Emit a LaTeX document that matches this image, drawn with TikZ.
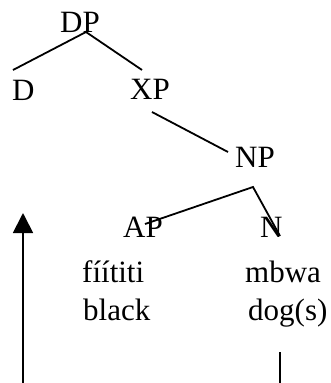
\documentclass[tikz,border=0pt]{standalone}
\usepackage{fontspec}
\setmainfont{Liberation Serif}
\usetikzlibrary{arrows.meta}
\begin{document}
\begin{tikzpicture}[x=1pt,y=-1pt,
  lbl/.style={anchor=base west,inner sep=0pt,font=\fontsize{31}{36}\selectfont},
  edge/.style={line width=1.8pt}]
\useasboundingbox (0,0) rectangle (330,383);
\node[lbl] (dp) at (60,32) {DP};
\node[lbl] (d) at (12,100) {D};
\node[lbl] (xp) at (130,99) {XP};
\node[lbl] (np) at (235,167) {NP};
\node[lbl] (ap) at (123,237) {AP};
\node[lbl] (n) at (260,237) {N};
\node[lbl] (w1) at (82,282) {fíítiti};
\node[lbl] (w2) at (245,282) {mbwa};
\node[lbl] (g1) at (83,320) {black};
\node[lbl] (g2) at (248,320) {dog(s)};
\coordinate (dpb) at (86,32);
\coordinate (dt) at (13,70);
\coordinate (xpt) at (142,70);
\coordinate (xpb) at (152,112);
\coordinate (npt) at (228,152);
\coordinate (npb) at (253,187);
\coordinate (apt) at (145,224);
\coordinate (nt) at (280,236);
\coordinate (vt) at (280,352);
\coordinate (vb) at (280,383);
\coordinate (at) at (23,213);
\coordinate (ab) at (23,383);
\draw[edge] (dt) -- (dpb) -- (xpt);
\draw[edge] (xpb) -- (npt);
\draw[edge] (apt) -- (npb) -- (nt);
\draw[edge] (vt) -- (vb);
\draw[edge,-{Triangle[length=20pt,width=20pt]}] (ab) -- (at);
\end{tikzpicture}
\end{document}
